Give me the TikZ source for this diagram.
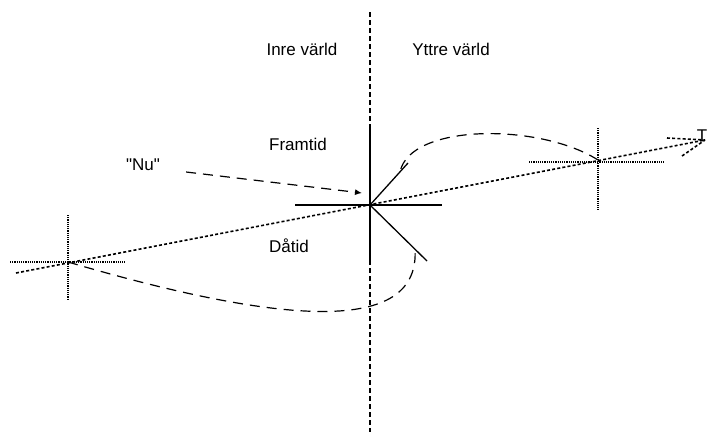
\documentclass[tikz,border=0pt]{standalone}
\usepackage{fontspec}
\newfontfamily\lblfont{Liberation Sans}
\usetikzlibrary{arrows.meta, positioning, calc}

\tikzset{
  axisline/.style={line width=1.3pt},
  crossline/.style={line width=1.3pt, dash pattern=on 1.2pt off 1pt},
  timeline/.style={line width=1.6pt, dash pattern=on 3pt off 2.2pt},
  border/.style={line width=1.2pt, dash pattern=on 5pt off 3pt},
  loopline/.style={line width=1.2pt, dash pattern=on 10pt off 7pt},
  lbl/.style={font=\lblfont\fontsize{17}{20}\selectfont, inner sep=0pt}
}

\begin{document}
\begin{tikzpicture}[x=1pt, y=-1pt]
  \useasboundingbox (0,0) rectangle (707,432);

  % punkter
  \coordinate (now) at (370,205);
  \coordinate (past) at (68,262);
  \coordinate (future) at (598,160);
  \coordinate (tstart) at (16,273);
  \coordinate (ttip) at (705,140);

  % gransen mellan inre och yttre varld
  \draw[border] (370,12) -- (370,432);

  % texter
  \node[lbl] (inre) at (302,49) {Inre värld};
  \node[lbl] (yttre) at (451,49) {Yttre värld};
  \node[lbl] (framtid) at (298,144) {Framtid};
  \node[lbl] (datid) at (289,246) {Dåtid};
  \node[lbl] (nu) at (143,165) {"Nu"};
  \node[lbl] (T) at (702,136) {T};

  % korset vid nu
  \draw[axisline] (370,128) -- (370,262);
  \draw[axisline] (295,205) -- (442,205);
  \draw[axisline] (now) -- (408,163);
  \draw[axisline] (now) -- (427,261);

  % tidslinjen
  \draw[timeline] (tstart) -- (ttip);
  \draw[timeline] (667,138) -- (ttip);
  \draw[timeline] (682,156) -- (ttip);

  % korsen i datid och framtid
  \draw[crossline] ($(past)+(-58,0)$) -- ($(past)+(57,0)$);
  \draw[crossline] ($(past)+(0,-47)$) -- ($(past)+(0,38)$);
  \draw[crossline] ($(future)+(-69,2)$) -- ($(future)+(66,2)$);
  \draw[crossline] ($(future)+(0,-32)$) -- ($(future)+(0,50)$);

  % slingorna
  \draw[loopline] (future) .. controls (540,123) and (410,123) .. (400,172);
  \draw[loopline] (past) .. controls (300,330) and (420,330) .. (415,249);

  % pilen fran "Nu"
  \draw[loopline, -{Latex[length=7pt, width=6pt]}] ($(nu.east)+(26,7)$) -- ($(now)+(-8,-12)$);
\end{tikzpicture}
\end{document}
